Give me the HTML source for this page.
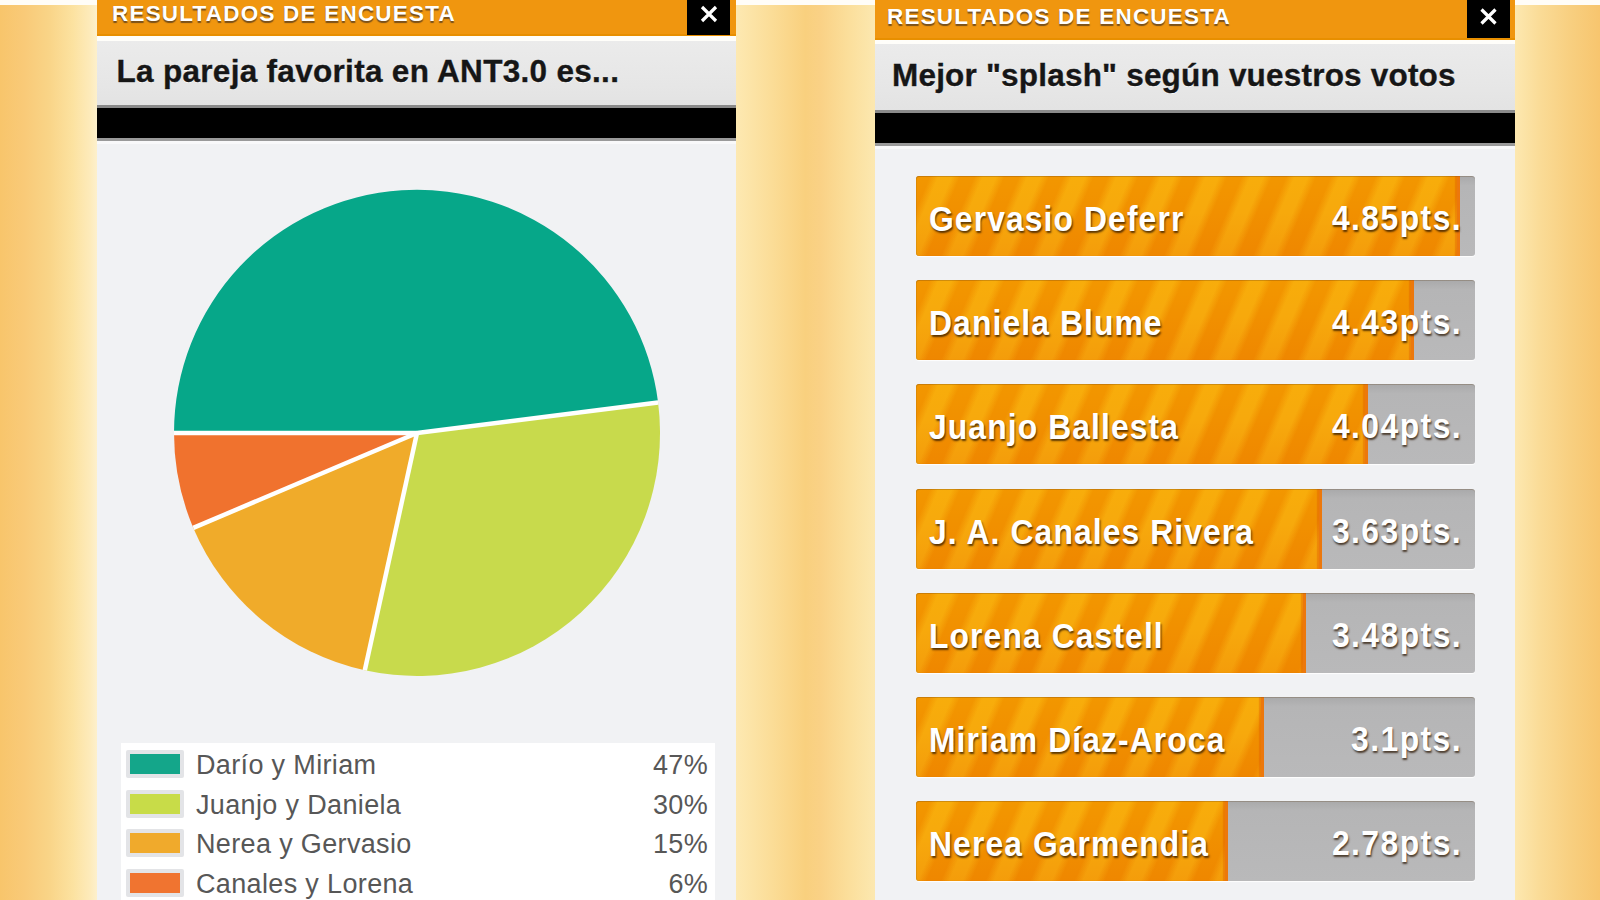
<!DOCTYPE html>
<html><head><meta charset="utf-8">
<style>
*{margin:0;padding:0;box-sizing:border-box}
html,body{width:1600px;height:900px;overflow:hidden;background:#f1f2f4}
body{position:relative;font-family:"Liberation Sans",sans-serif}
.abs{position:absolute}
.bgL{left:0;top:0;width:97px;height:900px;background:linear-gradient(90deg,#f8c56b 0%,#f9ca78 25%,#f9d487 50%,#fce2a0 75%,#fdebbb 93%,#fdf0cc 100%)}
.bgM{left:736px;top:0;width:139px;height:900px;background:linear-gradient(90deg,#fde9b2 0%,#fbdd98 25%,#f9d07e 50%,#fad185 60%,#fbde9a 80%,#fce8b0 100%)}
.bgR{left:1515px;top:0;width:85px;height:900px;background:linear-gradient(90deg,#fde8b0 0%,#fadb96 30%,#f8cf80 65%,#f7c56e 100%)}
.topw{top:0;height:5px;background:#fffdf8}
.panel{position:absolute;top:0;height:900px;background:#f1f2f4;overflow:hidden}
.hdr{position:absolute;left:0;right:0;top:0;background:#f0960f;border-bottom:2px solid #e88f00}
.hdr span{position:absolute;color:#fff;font-weight:bold;font-size:22.5px;letter-spacing:1.2px;transform:scaleX(1);transform-origin:0 0;text-shadow:0 2px 1px rgba(70,50,30,.7);white-space:nowrap}
.close{position:absolute;top:0;background:#000;color:#fff;font-weight:bold;text-align:center}
.wstrip{position:absolute;left:0;right:0;background:#fffefa}
.ghdr{position:absolute;left:0;right:0;background:linear-gradient(180deg,#ebebeb 0%,#e6e6e6 70%,#e3e3e3 100%)}
.ghdr span{position:absolute;font-weight:bold;color:#161616;-webkit-text-stroke:0.35px #161616;white-space:nowrap;text-shadow:0 1px 0 rgba(255,255,255,.8)}
.blk{position:absolute;left:0;right:0;background:#000;border-top:3px solid #8a8a8a;border-bottom:3px solid #9a9a9a}
.legend{position:absolute;left:24px;top:743px;width:594px;height:160px;background:#fff}
.row{position:absolute;left:0;width:594px;height:40px}
.sw{position:absolute;left:5px;width:58px;height:28px;background:#e3e4e7;border-radius:2px}
.sw i{position:absolute;left:4px;top:4px;right:4px;bottom:4px}
.lt{position:absolute;left:75px;font-size:27px;letter-spacing:.35px;color:#575757;white-space:nowrap}
.lp{position:absolute;right:7px;font-size:27px;letter-spacing:.3px;color:#575757;white-space:nowrap}
.bar{position:absolute;left:41px;width:559px;height:80px;background:linear-gradient(180deg,#a9a9aa 0%,#b5b5b6 12%,#b9b9ba 100%);border-radius:3px;overflow:hidden;box-shadow:0 1px 1px rgba(255,255,255,.9)}
.bar:after{content:'';position:absolute;left:0;top:0;right:0;bottom:0;box-shadow:inset 0 1px 0 rgba(90,60,20,.25),inset 1px 0 0 rgba(90,60,20,.12);border-radius:3px}
.fill{position:absolute;left:0;top:0;bottom:0;background:linear-gradient(180deg,rgba(255,200,0,.12),rgba(255,190,0,0) 45%,rgba(225,80,0,.14)),repeating-linear-gradient(113deg,#f19000 0px,#f19000 13px,#f7a90c 21px,#f7a90c 33px,#f19000 41px);border-right:3px solid #ec780c;box-shadow:inset -2px 0 1px rgba(220,80,0,.35)}
.bn{position:absolute;left:13px;top:3px;line-height:80px;font-size:35px;letter-spacing:1.2px;transform:scaleX(.91);transform-origin:0 50%;font-weight:bold;color:#fff;text-shadow:1px 2px 2px rgba(40,20,0,.75);white-space:nowrap}
.bv{position:absolute;right:13px;top:1.5px;line-height:80px;font-size:35px;letter-spacing:1.6px;transform:scaleX(.91);transform-origin:100% 50%;font-weight:bold;color:#fff;text-shadow:1px 2px 2px rgba(40,20,0,.75);white-space:nowrap}
</style></head><body>
<div class="abs bgL"></div>
<div class="abs bgM"></div>
<div class="abs bgR"></div>
<div class="abs topw" style="left:0;width:97px"></div>
<div class="abs topw" style="left:736px;width:139px"></div>
<div class="abs topw" style="left:1515px;width:85px"></div>

<!-- LEFT PANEL -->
<div class="panel" style="left:97px;width:639px">
  <div class="hdr" style="height:36px"><span style="left:15px;top:0.5px">RESULTADOS DE ENCUESTA</span></div>
  <div class="close" style="left:590px;width:43px;height:35px"><svg width="43" height="35" style="position:absolute;left:0;top:0"><path d="M15 7 L29 21 M29 7 L15 21" stroke="#fff" stroke-width="3.2"/></svg></div>
  <div class="wstrip" style="top:36px;height:5px"></div>
  <div class="ghdr" style="top:41px;height:64px"><span style="left:19.5px;top:12px;font-size:31.5px;letter-spacing:0.3px">La pareja favorita en ANT3.0 es...</span></div>
  <div class="blk" style="top:105px;height:36px"></div>
  <div class="wstrip" style="top:141px;height:3px;background:#f9f9fa"></div>
  <svg class="abs" style="left:-97px;top:0" width="736" height="900">
    <g>
<path d="M417 433 L174.0 433.0 A243 243 0 0 1 658.1 402.5 Z" fill="#06a789"/>
<path d="M417 433 L658.1 402.5 A243 243 0 0 1 364.8 670.3 Z" fill="#c8da4c"/>
<path d="M417 433 L364.8 670.3 A243 243 0 0 1 193.3 527.9 Z" fill="#f0ab2a"/>
<path d="M417 433 L193.3 527.9 A243 243 0 0 1 174.0 433.0 Z" fill="#f0722e"/>
    </g>
    <g stroke="#fff" stroke-width="4.5">
<line x1="417" y1="433" x2="174.0" y2="433.0"/>
<line x1="417" y1="433" x2="658.1" y2="402.5"/>
<line x1="417" y1="433" x2="364.8" y2="670.3"/>
<line x1="417" y1="433" x2="193.3" y2="527.9"/>
    </g>
  </svg>
  <div class="legend">
    <div class="row" style="top:7px"><div class="sw"><i style="background:#14a68a"></i></div><span class="lt">Darío y Miriam</span><span class="lp">47%</span></div>
    <div class="row" style="top:47px"><div class="sw"><i style="background:#c8dc48"></i></div><span class="lt">Juanjo y Daniela</span><span class="lp">30%</span></div>
    <div class="row" style="top:86px"><div class="sw"><i style="background:#f0aa2c"></i></div><span class="lt">Nerea y Gervasio</span><span class="lp">15%</span></div>
    <div class="row" style="top:126px"><div class="sw"><i style="background:#f07430"></i></div><span class="lt">Canales y Lorena</span><span class="lp">6%</span></div>
  </div>
</div>

<!-- RIGHT PANEL -->
<div class="panel" style="left:875px;width:640px">
  <div class="hdr" style="height:40px"><span style="left:12px;top:3.5px">RESULTADOS DE ENCUESTA</span></div>
  <div class="close" style="left:592px;width:43px;height:38px"><svg width="43" height="38" style="position:absolute;left:0;top:0"><path d="M14.5 9.5 L28.5 23.5 M28.5 9.5 L14.5 23.5" stroke="#fff" stroke-width="3.2"/></svg></div>
  <div class="wstrip" style="top:40px;height:4px"></div>
  <div class="ghdr" style="top:44px;height:66px"><span style="left:17px;top:12.5px;font-size:31.5px;letter-spacing:0.2px">Mejor "splash" según vuestros votos</span></div>
  <div class="blk" style="top:110px;height:36px"></div>
  <div class="wstrip" style="top:146px;height:3px;background:#f9f9fa"></div>

  <div class="bar" style="top:176px"><div class="fill" style="width:544px"></div><span class="bn">Gervasio Deferr</span><span class="bv">4.85pts.</span></div>
  <div class="bar" style="top:280px"><div class="fill" style="width:498px"></div><span class="bn">Daniela Blume</span><span class="bv">4.43pts.</span></div>
  <div class="bar" style="top:384px"><div class="fill" style="width:452px"></div><span class="bn">Juanjo Ballesta</span><span class="bv">4.04pts.</span></div>
  <div class="bar" style="top:489px"><div class="fill" style="width:406px"></div><span class="bn">J. A. Canales Rivera</span><span class="bv">3.63pts.</span></div>
  <div class="bar" style="top:593px"><div class="fill" style="width:390px"></div><span class="bn">Lorena Castell</span><span class="bv">3.48pts.</span></div>
  <div class="bar" style="top:697px"><div class="fill" style="width:348px"></div><span class="bn">Miriam Díaz-Aroca</span><span class="bv">3.1pts.</span></div>
  <div class="bar" style="top:801px"><div class="fill" style="width:312px"></div><span class="bn">Nerea Garmendia</span><span class="bv">2.78pts.</span></div>
</div>
</body></html>
